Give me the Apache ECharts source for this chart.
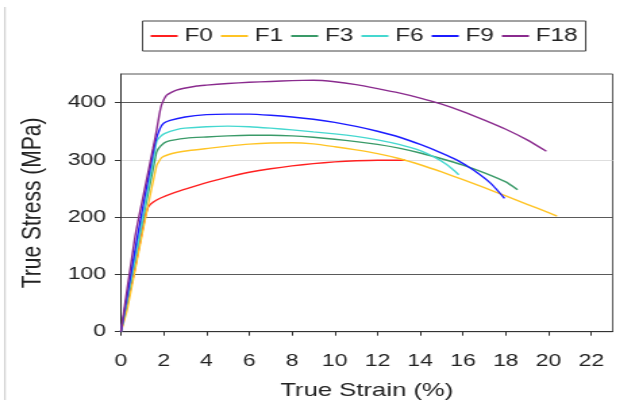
<!DOCTYPE html>
<html>
<head>
<meta charset="utf-8">
<script src="https://cdn.jsdelivr.net/npm/echarts@6/dist/echarts.min.js"></script>
<style>
  html, body { margin: 0; padding: 0; background: #fff; overflow: hidden; }
  /* the source picture is stretched sideways, so the chart is drawn narrow and widened */
  #chart { width: 470px; height: 400px; transform: scaleX(1.351); transform-origin: 0 0; }
</style>
</head>
<body>
<div id="chart"></div>
<script>
  // tick labels
  const xTicks = [0, 2, 4, 6, 8, 10, 12, 14, 16, 18, 20, 22]
  const yTicks = [0, 100, 200, 300, 400]

  const seriesNames = ['F0', 'F1', 'F3', 'F6', 'F9', 'F18']

  // F0
  const f0Strain = [0, 0.6, 1.1, 1.28, 1.5, 1.83, 2.5, 3.39, 4.5, 5.5, 6, 7, 8, 9, 10, 11, 12, 13.3]
  const f0Stress = [0, 100, 195, 218, 226, 233, 243, 253.5, 265, 274.5, 278.5, 284.5, 289.5, 293.5, 296.5, 298.5, 299.5, 299.5]
  // F1
  const f1Strain = [0, 0.3, 0.97, 1.67, 1.9, 2.2, 2.6, 3.2, 4.17, 5, 6, 7, 8, 9, 10, 11, 12, 13, 14, 15, 16, 17, 18, 19, 20, 20.4]
  const f1Stress = [0, 40, 166, 290, 304, 309, 313, 316.5, 320.5, 324, 327.5, 329.5, 330, 328, 323, 317.5, 311, 302.5, 291.5, 279, 265.5, 251.5, 237, 222.5, 208, 202]
  // F3
  const f3Strain = [0, 0.86, 1.59, 1.67, 1.85, 2.14, 3.08, 4, 5, 6, 7, 8, 9, 10, 11, 12, 13, 14, 15, 16, 17, 18, 18.55]
  const f3Stress = [0, 166, 300, 314, 324, 332, 338, 340, 342, 343, 343, 342, 339.5, 336, 332, 327, 320.5, 312, 302, 291, 277.5, 261.5, 248]
  // F6
  const f6Strain = [0, 0.86, 1.51, 1.67, 1.85, 2.06, 2.6, 3, 4, 5, 6, 7, 8, 9, 10, 11, 12, 13, 14, 14.7, 15.2, 15.5, 15.8]
  const f6Stress = [0, 166, 300, 332, 341, 346.5, 353, 355.5, 358, 359, 358, 355.5, 352.5, 349, 345.5, 341, 335, 327, 316, 304, 293, 284, 274]
  // F9
  const f9Strain = [0, 0.77, 1.44, 1.6, 1.83, 2.0, 2.3, 3, 4, 5, 6, 7, 8, 9, 10, 11, 12, 13, 14, 15, 15.7, 16.5, 17.3, 17.94]
  const f9Stress = [0, 166, 300, 330, 355, 364, 369, 375, 379, 380, 380, 378, 375, 371, 365.5, 358.5, 350, 340, 327, 312, 300, 282, 259, 233]
  // F18
  const f18Strain = [0, 0.66, 1.2, 1.5, 1.67, 1.8, 1.9, 2.14, 2.6, 3.55, 4, 5, 6, 7, 8, 9, 10, 11, 12, 13, 14, 15, 16, 17, 18, 19, 19.9]
  const f18Stress = [0, 166, 265, 320, 352, 380, 396, 413, 422, 429, 430.5, 433.5, 435.5, 437, 438.5, 439, 436.5, 431.5, 424.5, 417, 408, 397.5, 384.5, 369.5, 353.5, 335, 315]

  const strains = [f0Strain, f1Strain, f3Strain, f6Strain, f9Strain, f18Strain]
  const stresses = [f0Stress, f1Stress, f3Stress, f6Stress, f9Stress, f18Stress]
  const colorList = ['#ff2020', '#ffc425', '#3a9a68', '#45d8d0', '#1c1cff', '#8a2b8e']

  const myChart = echarts.init(document.getElementById('chart'), null, { renderer: 'canvas' })

  let series = seriesNames.map((name, i) => {
    return {
      name: name,
      type: 'line',
      showSymbol: false,
      smooth: 0.15,
      data: strains[i].map((v, j) => [v, stresses[i][j]]),
      lineStyle: { width: 1.4, color: colorList[i] },
      itemStyle: { color: colorList[i] }
    }
  })

  let option = {
    animation: false,
    textStyle: { fontFamily: 'Liberation Sans, Arial, sans-serif', color: '#222' },
    legend: {
      data: seriesNames,
      left: 105.5,
      top: 21,
      padding: [6, 6],
      itemGap: 6,
      itemWidth: 20,
      itemHeight: 2,
      icon: 'rect',
      borderColor: '#444',
      borderWidth: 1,
      textStyle: { fontSize: 18, color: '#222', padding: [0, 0, 0, 0] }
    },
    grid: {
      left: 89.5,
      right: 16.5,
      top: 74,
      bottom: 68.3,
      outerBoundsMode: 'none',
      show: true,
      borderColor: '#555',
      borderWidth: 1
    },
    xAxis: {
      type: 'value',
      min: 0,
      max: 23,
      interval: 2,
      name: 'True Strain (%)',
      nameLocation: 'middle',
      nameGap: 50,
      nameTextStyle: { fontSize: 19, color: '#222' },
      axisLine: { lineStyle: { color: '#333' } },
      axisTick: { show: true, length: 4, customValues: xTicks, lineStyle: { color: '#333' } },
      axisLabel: { fontSize: 17, color: '#222', margin: 21, customValues: xTicks },
      splitLine: { show: false }
    },
    yAxis: {
      type: 'value',
      min: 0,
      max: 450,
      interval: 100,
      name: 'True Stress (MPa)',
      nameLocation: 'middle',
      nameGap: 55,
      nameTextStyle: { fontSize: 21, color: '#222' },
      axisLine: { show: true, lineStyle: { color: '#333' } },
      axisTick: { show: true, length: 4.5, customValues: yTicks, lineStyle: { color: '#333' } },
      axisLabel: { fontSize: 17, color: '#222', margin: 11, customValues: yTicks },
      splitLine: {
        show: true,
        // the 300 line is drawn pale in the source
        lineStyle: { color: ['#5a5a5a', '#5a5a5a', '#5a5a5a', '#dedede', '#5a5a5a', '#5a5a5a'], width: 1 }
      }
    },
    graphic: [
      {
        type: 'line',
        shape: { x1: 3.7, y1: 7, x2: 3.7, y2: 400 },
        style: { stroke: '#c8c8c8', lineWidth: 1 }
      }
    ],
    series: series
  }
  myChart.setOption(option, true)
</script>
</body>
</html>
